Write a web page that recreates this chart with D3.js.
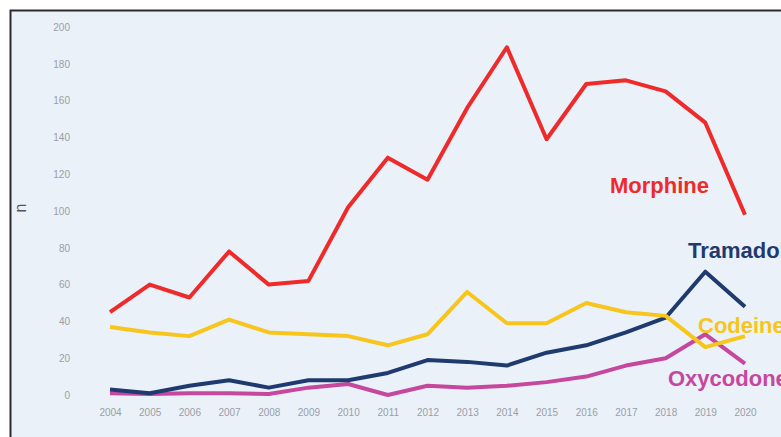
<!DOCTYPE html>
<html>
<head>
<meta charset="utf-8">
<script src="https://cdn.jsdelivr.net/npm/d3@7"></script>
<style>
  body { margin: 0; background: #fff; }
  svg { display: block; font-family: "Liberation Sans", Arial, sans-serif; }
  .axis path, .axis line { display: none; }
  .axis text { fill: #9a9ea6; font-size: 10px; }
</style>
</head>
<body>
<div id="chart"></div>
<script>
var years = [2004, 2005, 2006, 2007, 2008, 2009, 2010, 2011, 2012, 2013, 2014, 2015, 2016, 2017, 2018, 2019, 2020];
var morphine  = [45, 60, 53, 78, 60, 62, 102, 129, 117, 156, 189, 139, 169, 171, 165, 148, 98];
var tramadol  = [3, 1, 5, 8, 4, 8, 8, 12, 19, 18, 16, 23, 27, 34, 42, 67, 48];
var codeine   = [37, 34, 32, 41, 34, 33, 32, 27, 33, 56, 39, 39, 50, 45, 43, 26, 32];
var oxycodone = [1, 0.5, 1, 1, 0.5, 4, 6, 0, 5, 4, 5, 7, 10, 16, 20, 33, 17];
var yTicks = [0, 20, 40, 60, 80, 100, 120, 140, 160, 180, 200];

var series = [
    {name: "Morphine", values: morphine, color: "#ee2a2a", lx: 610, ly: 193},
    {name: "Tramadol", values: tramadol, color: "#1f3a6e", lx: 688, ly: 258},
    {name: "Codeine", values: codeine, color: "#f7c51b", lx: 698, ly: 333},
    {name: "Oxycodone", values: oxycodone, color: "#c6479e", lx: 668, ly: 386}
];

var W = 781, H = 437;
var margin = {top: 27, right: 36, bottom: 42, left: 110};
var width = W - margin.left - margin.right;
var height = H - margin.top - margin.bottom;

var svg = d3.select("#chart").append("svg")
        .attr("width", W)
        .attr("height", H);

// panel background + frame
svg.append("rect")
        .attr("x", 10).attr("y", 10)
        .attr("width", W - 10).attr("height", H - 10)
        .attr("fill", "#eaf1f9");
svg.append("path")
        .attr("d", "M10.5," + H + "V10.5H" + W)
        .attr("fill", "none")
        .attr("stroke", "#2b2b2b")
        .attr("stroke-width", 2);

var g = svg.append("g")
        .attr("transform", "translate(" + margin.left + "," + margin.top + ")");

var x = d3.scalePoint()
        .domain(years)
        .range([0, width]);

var y = d3.scaleLinear()
        .domain([0, 200])
        .range([height, 0]);

g.append("g")
        .attr("class", "axis axis--x")
        .attr("transform", "translate(0," + (height + 10) + ")")
        .call(d3.axisBottom(x).tickSize(0).tickPadding(4));

g.append("g")
        .attr("class", "axis axis--y")
        .attr("transform", "translate(-40,0)")
        .call(d3.axisLeft(y).tickValues(yTicks).tickSize(0).tickPadding(0));
g.selectAll(".axis--y text").attr("text-anchor", "end");

g.append("text")
        .attr("transform", "translate(-84," + (height / 2 - 3) + ") rotate(-90)")
        .attr("text-anchor", "middle")
        .attr("fill", "#555")
        .style("font-size", "16px")
        .text("n");

var line = d3.line()
        .x(function (d, i) { return x(years[i]); })
        .y(function (d) { return y(d); });

// draw order: oxycodone, tramadol, codeine, morphine on top
[3, 1, 2, 0].forEach(function (k) {
    var s = series[k];
    g.append("path")
            .datum(s.values)
            .attr("fill", "none")
            .attr("stroke", s.color)
            .attr("stroke-width", 4)
            .attr("stroke-linejoin", "round")
            .attr("d", line);
});

series.forEach(function (s) {
    svg.append("text")
            .attr("x", s.lx)
            .attr("y", s.ly)
            .attr("fill", s.color)
            .style("font-size", "22px")
            .style("font-weight", "bold")
            .text(s.name);
});
</script>
</body>
</html>
